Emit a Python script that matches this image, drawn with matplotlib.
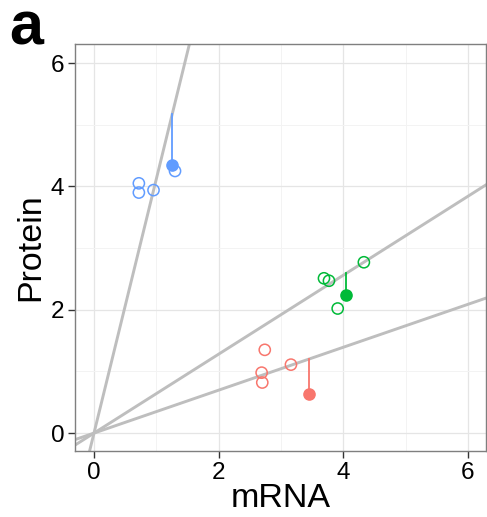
#!/usr/bin/env python3
"""mRNA vs protein, per-gene fit through origin with one outlier each."""

import matplotlib.pyplot as plt
from matplotlib.ticker import MultipleLocator

plt.rcParams["font.family"] = ["Liberation Sans", "DejaVu Sans"]

COLORS = ["#F8766D", "#00BA38", "#619CFF"]
SLOPES = [0.348, 0.64, 4.12]

# open points (replicates) per group
open_x = [
    [2.74, 2.69, 2.70, 3.16],
    [4.33, 3.69, 3.77, 3.91],
    [0.72, 0.72, 0.955, 1.30],
]
open_y = [
    [1.35, 0.98, 0.82, 1.11],
    [2.77, 2.51, 2.47, 2.02],
    [4.05, 3.90, 3.94, 4.25],
]
# filled points (the one measured sample) per group
filled_x = [3.45, 4.05, 1.255]
filled_y = [0.63, 2.24, 4.35]

XLIM = (-0.3, 6.29)
YLIM = (-0.29, 6.31)

fig = plt.figure(figsize=(4.87, 5.17), dpi=100)
ax = fig.add_axes([0.1546, 0.1277, 0.8434, 0.7873])

for s in SLOPES:
    ax.plot(XLIM, [s * XLIM[0], s * XLIM[1]], color="#BEBEBE", lw=2.1, zorder=2)

for i, c in enumerate(COLORS):
    fx, fy = filled_x[i], filled_y[i]
    ax.plot([fx, fx], [fy, SLOPES[i] * fx], color=c, lw=1.3, zorder=3)
    ax.scatter(open_x[i], open_y[i], s=65, facecolors="none", edgecolors=c,
               linewidths=1.1, zorder=4)
    ax.scatter([fx], [fy], s=65, color=c, zorder=4)

ax.set_xlim(*XLIM)
ax.set_ylim(*YLIM)
ax.xaxis.set_major_locator(MultipleLocator(2))
ax.yaxis.set_major_locator(MultipleLocator(2))
ax.xaxis.set_minor_locator(MultipleLocator(1))
ax.yaxis.set_minor_locator(MultipleLocator(1))
ax.grid(which="major", color="#E5E5E5", lw=0.9, zorder=0)
ax.grid(which="minor", color="#F3F3F3", lw=0.7, zorder=0)
ax.set_axisbelow(True)
ax.tick_params(which="minor", length=0)
ax.tick_params(which="major", direction="out", length=5, width=1,
               color="#333333", labelsize=17.5, pad=3)
for sp in ax.spines.values():
    sp.set_color("#7F7F7F")
    sp.set_linewidth(1)

ax.set_xlabel("mRNA", fontsize=24.5, labelpad=-1)
ax.set_ylabel("Protein", fontsize=24.5, labelpad=3)
fig.text(0.018, 0.913, "a", fontsize=44, fontweight="bold", va="baseline")

plt.savefig("out.png", dpi=100)
